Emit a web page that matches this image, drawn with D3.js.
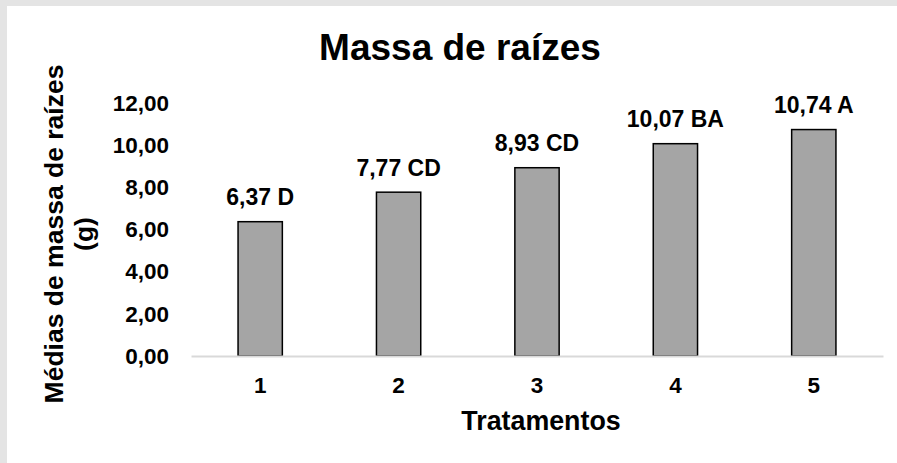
<!DOCTYPE html>
<html>
<head>
<meta charset="utf-8">
<script src="https://cdn.jsdelivr.net/npm/d3@7"></script>
<style>
  body { margin: 0; padding: 0; background: #e6e6e6; }
  svg { display: block; font-family: "Liberation Sans", Arial, sans-serif; font-weight: bold; }
</style>
</head>
<body>
<svg id="chart" width="897" height="463"></svg>
<script>
var categories = ["1", "2", "3", "4", "5"];
var values = [6.37, 7.77, 8.93, 10.07, 10.74];
var letters = ["D", "CD", "CD", "BA", "A"];
var yTicks = [0, 2, 4, 6, 8, 10, 12];

var svg = d3.select("#chart"),
  plotLeft = 191, plotRight = 883, plotTop = 103, plotBottom = 356;

// textured page behind the white chart area
svg.append("rect").attr("width", 897).attr("height", 463).attr("fill", "#e4e4e4");
svg.append("rect").attr("x", 7).attr("y", 6).attr("width", 890).attr("height", 457).attr("fill", "#fff");

var xScale = d3.scaleBand().domain(categories).range([plotLeft, plotRight]).paddingInner(0.68).paddingOuter(0.34),
  yScale = d3.scaleLinear().domain([0, 12]).range([plotBottom, plotTop]);

var fmt = function(v) { return d3.format(".2f")(v).replace(".", ","); };

// y tick labels
svg.append("g")
  .attr("transform", "translate(" + plotLeft + ",0)")
  .attr("font-size", 22.5)
  .attr("font-family", "Liberation Sans, Arial, sans-serif")
  .call(d3.axisLeft(yScale).tickValues(yTicks).tickFormat(fmt).tickSize(0).tickPadding(22))
  .call(function(g) {
    g.select(".domain").remove();
    g.attr("font-size", 22.5).attr("font-family", "Liberation Sans, Arial, sans-serif").attr("font-weight", "bold");
    g.selectAll("text").attr("fill", "#000");
  });

// bars
svg.selectAll(".bar")
  .data(values)
  .enter().append("rect")
  .attr("class", "bar")
  .attr("x", function(d, i) { return xScale(categories[i]); })
  .attr("y", function(d) { return yScale(d); })
  .attr("width", xScale.bandwidth())
  .attr("height", function(d) { return plotBottom - yScale(d); })
  .attr("fill", "#a5a5a5")
  .attr("stroke", "#000")
  .attr("stroke-width", 1.5);

// baseline + category labels
svg.append("g")
  .attr("transform", "translate(0," + plotBottom + ")")
  .call(d3.axisBottom(xScale).tickSize(0).tickPadding(21))
  .call(function(g) {
    g.attr("font-size", 22.5).attr("font-family", "Liberation Sans, Arial, sans-serif").attr("font-weight", "bold");
    g.select(".domain").attr("stroke", "#d9d9d9").attr("stroke-width", 2);
    g.selectAll("text").attr("fill", "#000");
  });

// value labels
svg.selectAll(".lbl")
  .data(values)
  .enter().append("text")
  .attr("class", "lbl")
  .attr("x", function(d, i) { return xScale(categories[i]) + xScale.bandwidth() / 2; })
  .attr("y", function(d) { return yScale(d) - 16.5; })
  .attr("text-anchor", "middle")
  .attr("font-size", 23)
  .text(function(d, i) { return fmt(d) + " " + letters[i]; });

// title
svg.append("text")
  .attr("x", 460).attr("y", 60)
  .attr("text-anchor", "middle")
  .attr("font-size", 37)
  .text("Massa de raízes");

// x axis title
svg.append("text")
  .attr("x", 541).attr("y", 430)
  .attr("text-anchor", "middle")
  .attr("font-size", 26.8)
  .text("Tratamentos");

// y axis title (two lines)
var yt = svg.append("text")
  .attr("transform", "translate(63,234) rotate(-90)")
  .attr("text-anchor", "middle")
  .attr("font-size", 26.5);
yt.append("tspan").attr("x", 0).attr("y", 0).text("Médias de massa de raízes");
yt.append("tspan").attr("x", 0).attr("y", 30).text("(g)");
</script>
</body>
</html>
